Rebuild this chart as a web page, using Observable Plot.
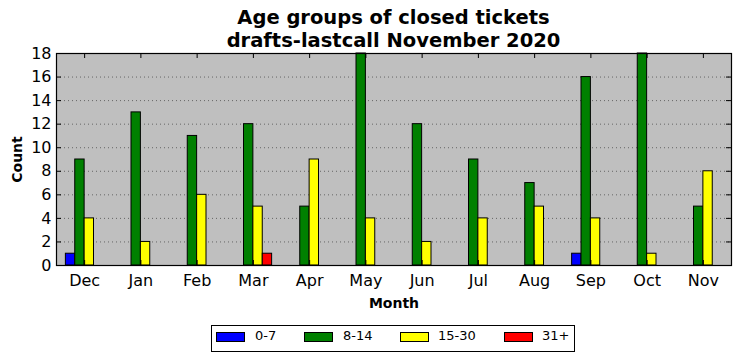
<!DOCTYPE html>
<html>
<head>
<meta charset="utf-8">
<script src="https://cdn.jsdelivr.net/npm/d3@7"></script>
<script src="https://cdn.jsdelivr.net/npm/@observablehq/plot@0.6"></script>
<style>
  body { margin: 0; background: #fff; font-family: "DejaVu Sans", sans-serif; }
  #wrap { width: 740px; height: 361px; position: relative; overflow: hidden; }
  .title { position: absolute; left: 56px; width: 675px; text-align: center; white-space: nowrap;
           font-weight: bold; font-size: 19.5px; line-height: 20px; height: 20px; color: #000; }
  #chart { position: absolute; left: 0; top: 43px; }
  #legend { position: absolute; left: 211px; top: 325px; width: 362px; height: 25px;
            border: 1px solid #000; background: #fff; }
  .sw { position: absolute; top: 6px; width: 27px; height: 8px; border: 1px solid #000; }
  .lb { position: absolute; top: 2px; font-size: 13px; line-height: 16px; color: #000; }
</style>
</head>
<body>
<div id="wrap">
  <div class="title" id="title1" style="top:8px">Age groups of closed tickets</div>
  <div class="title" id="title2" style="top:31px">drafts-lastcall November 2020</div>
  <div id="chart"></div>
  <div id="legend"></div>
</div>
<script>
const months = ["Dec","Jan","Feb","Mar","Apr","May","Jun","Jul","Aug","Sep","Oct","Nov"];
const groups = ["0-7","8-14","15-30","31+"];
const colors = ["#0000ff","#008000","#ffff00","#ff0000"];
const age0to7   = [1, 0, 0, 0, 0, 0, 0, 0, 0, 1, 0, 0];
const age8to14  = [9, 13, 11, 12, 5, 18, 12, 9, 7, 16, 18, 5];
const age15to30 = [4, 2, 6, 5, 9, 4, 2, 4, 5, 4, 1, 8];
const age31plus = [0, 0, 0, 1, 0, 0, 0, 0, 0, 0, 0, 0];
const yTicks = [0, 2, 4, 6, 8, 10, 12, 14, 16, 18];
const yDomain = [0, 18];
const xDomain = [-0.5, 11.5];
const barWidth = 1 / 6;

const series = [age0to7, age8to14, age15to30, age31plus];
const rows = [];
series.forEach((vals, k) => {
  vals.forEach((v, i) => {
    rows.push({month: months[i], group: groups[k], value: v,
               x1: i + (k - 2) * barWidth, x2: i + (k - 1) * barWidth});
  });
});
const xTicks = months.map((m, i) => i);

const plot = Plot.plot({
  width: 740,
  height: 282,
  marginLeft: 56,
  marginRight: 9,
  marginTop: 10,
  marginBottom: 60,
  style: {fontFamily: "DejaVu Sans, sans-serif", background: "transparent", overflow: "visible"},
  x: {type: "linear", domain: xDomain},
  y: {domain: yDomain},
  color: {domain: groups, range: colors},
  marks: [
    Plot.frame({fill: "#bfbfbf", stroke: null}),
    Plot.ruleY(yTicks.slice(1, -1), {y: d => d, stroke: "#000", strokeOpacity: 0.6, strokeWidth: 0.8, strokeDasharray: "1,3"}),
    Plot.rectY(rows, {x1: "x1", x2: "x2", y1: 0, y2: "value", fill: "group", stroke: "#000", strokeWidth: 1}),
    // inward tick marks
    Plot.ruleX(xTicks, {x: d => d, y1: yDomain[0], y2: yDomain[0], insetBottom: 5, stroke: "#000"}),
    Plot.ruleX(xTicks, {x: d => d, y1: yDomain[1], y2: yDomain[1], insetTop: 5, stroke: "#000"}),
    Plot.ruleY(yTicks, {y: d => d, x1: xDomain[0], x2: xDomain[0], insetLeft: 5, stroke: "#000"}),
    Plot.ruleY(yTicks, {y: d => d, x1: xDomain[1], x2: xDomain[1], insetRight: 5, stroke: "#000"}),
    Plot.frame({stroke: "#000", strokeWidth: 1.2}),
    Plot.axisX(xTicks, {tickSize: 0, tickPadding: 9, fontSize: 16, tickFormat: i => months[i], label: null}),
    Plot.axisY(yTicks, {tickSize: 0, tickPadding: 5, fontSize: 16, label: null}),
    Plot.text(["Month"], {frameAnchor: "bottom", lineAnchor: "middle", textAnchor: "middle", dy: 38.5, fontSize: 14, fontWeight: "bold", fill: "#000"}),
    Plot.text(["Count"], {frameAnchor: "left", lineAnchor: "middle", textAnchor: "middle", dx: -39, rotate: -90, fontSize: 14, fontWeight: "bold", fill: "#000"})
  ]
});
document.getElementById("chart").appendChild(plot);

const legend = document.getElementById("legend");
const swX = [4, 92, 188, 292];
const lbX = [43, 131, 226, 330];
groups.forEach((g, k) => {
  const s = document.createElement("div");
  s.className = "sw";
  s.style.left = swX[k] + "px";
  s.style.background = colors[k];
  legend.appendChild(s);
  const l = document.createElement("div");
  l.className = "lb";
  l.style.left = lbX[k] + "px";
  l.textContent = g;
  legend.appendChild(l);
});
</script>
</body>
</html>
